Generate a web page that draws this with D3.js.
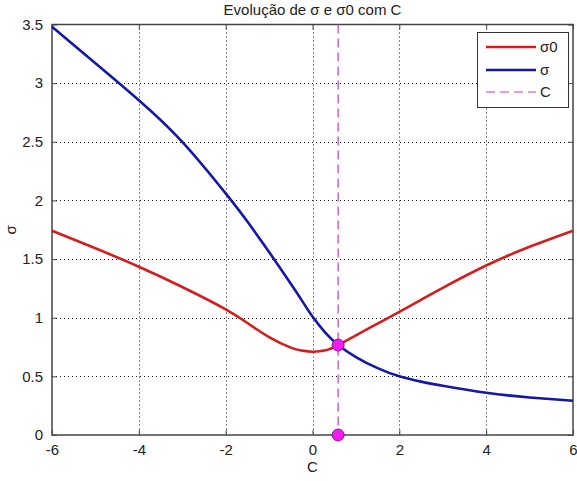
<!DOCTYPE html>
<html>
<head>
<meta charset="utf-8">
<script src="https://cdn.jsdelivr.net/npm/d3@7"></script>
<style>
  html, body { margin: 0; padding: 0; background: #fff; }
  svg { display: block; }
  text { font-family: "Liberation Sans", Arial, sans-serif; fill: #222; }
</style>
</head>
<body>
<svg id="chart" width="577" height="481"></svg>
<script>
// Parameter C and the two spreads evaluated over it
const cValues = [-6, -5, -4, -3, -2, -1.5, -1, -0.5, -0.25, 0, 0.3, 0.59, 1, 1.5, 2, 2.5, 3, 4, 5, 6];
const sigma0  = [1.742, 1.592, 1.435, 1.262, 1.072, 0.955, 0.835, 0.745, 0.72, 0.71, 0.722, 0.767, 0.85, 0.95, 1.05, 1.153, 1.255, 1.445, 1.605, 1.742];
const sigma   = [3.48, 3.17, 2.855, 2.5, 2.06, 1.82, 1.56, 1.29, 1.15, 1.01, 0.87, 0.767, 0.665, 0.57, 0.5, 0.455, 0.42, 0.36, 0.32, 0.292];

// Chosen C and the value where both curves meet
const cChosen = 0.59;
const sigmaAtC = 0.767;

const xTicks = [-6, -4, -2, 0, 2, 4, 6];
const yTicks = [0, 0.5, 1, 1.5, 2, 2.5, 3, 3.5];

const titleText = "Evolução de σ e σ0 com C";
const xLabel = "C";
const yLabel = "σ";
const legendLabels = ["σ0", "σ", "C"];

const colRed = "#d41e1e";
const colBlue = "#1616a8";
const colMag = "#c23cc2";

const svg = d3.select("#chart");
const plotL = 52, plotR = 573, plotT = 24.5, plotB = 435;

const x = d3.scaleLinear().domain([-6, 6]).range([plotL, plotR]);
const y = d3.scaleLinear().domain([0, 3.5]).range([plotB, plotT]);

// dotted grid
const grid = svg.append("g");
grid.selectAll("line.gx").data(xTicks.slice(1, -1)).join("line")
  .attr("x1", d => Math.round(x(d)) + 0.5).attr("x2", d => Math.round(x(d)) + 0.5)
  .attr("y1", plotT).attr("y2", plotB)
  .attr("stroke", "#111").attr("stroke-width", 1).attr("stroke-dasharray", "1,3");
grid.selectAll("line.gy").data(yTicks.slice(1, -1)).join("line")
  .attr("y1", d => Math.round(y(d)) + 0.5).attr("y2", d => Math.round(y(d)) + 0.5)
  .attr("x1", plotL).attr("x2", plotR)
  .attr("stroke", "#111").attr("stroke-width", 1).attr("stroke-dasharray", "1,3");

// axes with inward ticks on all four sides
const axisColor = "#444";
function styleAxis(g) {
  g.select(".domain").remove();
  g.selectAll(".tick line").attr("stroke", axisColor);
  g.selectAll(".tick text").attr("font-size", 15).style("font-family", "'Liberation Sans', Arial, sans-serif").attr("fill", "#222");
}
svg.append("g").attr("transform", `translate(0,${plotB})`)
  .call(d3.axisBottom(x).tickValues(xTicks).tickFormat(d => String(d)).tickSizeInner(-5).tickPadding(9))
  .call(styleAxis);
svg.append("g").attr("transform", `translate(0,${plotT})`)
  .call(d3.axisTop(x).tickValues(xTicks).tickFormat("").tickSizeInner(-5))
  .call(styleAxis);
svg.append("g").attr("transform", `translate(${plotL},0)`)
  .call(d3.axisLeft(y).tickValues(yTicks).tickFormat(d => String(d)).tickSizeInner(-5).tickPadding(9))
  .call(styleAxis);
svg.append("g").attr("transform", `translate(${plotR},0)`)
  .call(d3.axisRight(y).tickValues(yTicks).tickFormat("").tickSizeInner(-5))
  .call(styleAxis);

svg.append("rect")
  .attr("x", plotL).attr("y", plotT).attr("width", plotR - plotL).attr("height", plotB - plotT)
  .attr("fill", "none").attr("stroke", axisColor).attr("stroke-width", 1.5);

// curves
const line = d3.line().x(d => x(d[0])).y(d => y(d[1])).curve(d3.curveNatural);
const redData = cValues.map((c, i) => [c, sigma0[i]]);
const blueData = cValues.map((c, i) => [c, sigma[i]]);

svg.append("path").datum(redData).attr("d", line)
  .attr("fill", "none").attr("stroke", colRed).attr("stroke-width", 2.6);
svg.append("path").datum(blueData).attr("d", line)
  .attr("fill", "none").attr("stroke", colBlue).attr("stroke-width", 2.6);

// vertical marker at chosen C
svg.append("line")
  .attr("x1", x(cChosen)).attr("x2", x(cChosen))
  .attr("y1", plotT).attr("y2", plotB)
  .attr("stroke", colMag).attr("stroke-width", 1.2).attr("stroke-dasharray", "9,5");

svg.selectAll("circle.pt").data([[cChosen, sigmaAtC], [cChosen, 0]]).join("circle")
  .attr("cx", d => x(d[0])).attr("cy", d => y(d[1])).attr("r", 6)
  .attr("fill", "#f21cf2").attr("stroke", "#7a1a8a").attr("stroke-width", 1);

// title and axis labels
svg.append("text").attr("x", (plotL + plotR) / 2).attr("y", 15)
  .attr("text-anchor", "middle").attr("font-size", 15).text(titleText);
svg.append("text").attr("x", (plotL + plotR) / 2).attr("y", 472)
  .attr("text-anchor", "middle").attr("font-size", 15).text(xLabel);
svg.append("text").attr("transform", `translate(16,${(plotT + plotB) / 2}) rotate(-90)`)
  .attr("text-anchor", "middle").attr("font-size", 15).text(yLabel);

// legend
const lg = svg.append("g");
lg.append("rect").attr("x", 477.5).attr("y", 32.5).attr("width", 91).attr("height", 75)
  .attr("fill", "#fff").attr("stroke", "#333").attr("stroke-width", 1);
const legendItems = [
  { label: legendLabels[0], color: colRed, width: 2.6, dash: null, yy: 47 },
  { label: legendLabels[1], color: colBlue, width: 2.6, dash: null, yy: 70 },
  { label: legendLabels[2], color: colMag, width: 1.2, dash: "9,5", yy: 92 }
];
legendItems.forEach(it => {
  lg.append("line").attr("x1", 486).attr("x2", 536).attr("y1", it.yy).attr("y2", it.yy)
    .attr("stroke", it.color).attr("stroke-width", it.width)
    .attr("stroke-dasharray", it.dash);
  lg.append("text").attr("x", 540).attr("y", it.yy + 5).attr("font-size", 15).text(it.label);
});
</script>
</body>
</html>
